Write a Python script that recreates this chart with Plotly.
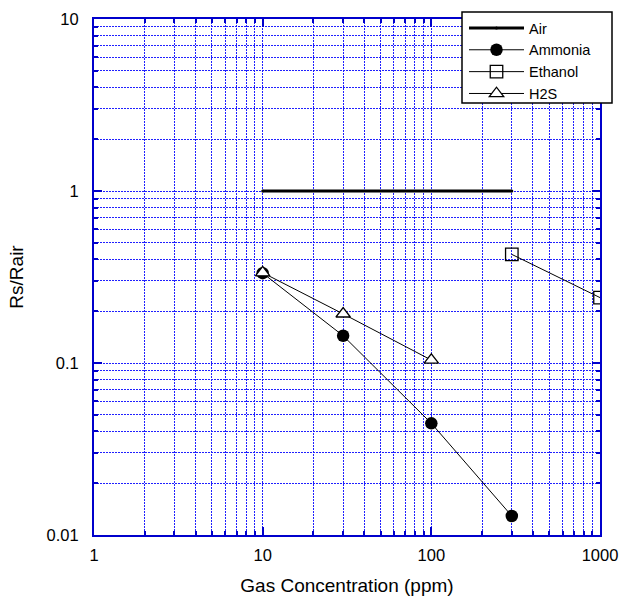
import plotly.graph_objects as go

air_x = [10, 300]
air_y = [1, 1]
ammonia_x = [10, 30, 100, 300]
ammonia_y = [0.333, 0.144, 0.0446, 0.0129]
ethanol_x = [300, 1000]
ethanol_y = [0.428, 0.240]
h2s_x = [10, 30, 100]
h2s_y = [0.335, 0.193, 0.104]

x_ticks = [1, 10, 100, 1000]
x_tick_text = ["1", "10", "100", "1000"]
y_ticks = [0.01, 0.1, 1, 10]
y_tick_text = ["0.01", "0.1", "1", "10"]

x_minor = [m * 10 ** e for e in range(0, 3) for m in range(2, 10)]
y_minor = [m * 10.0 ** e for e in range(-2, 1) for m in range(2, 10)]

FONT = "Liberation Sans, Arial"
BLUE = "#0000cc"
GRID = "#2020ff"
GRID_DASH = "1.5px,1.5px"

fig = go.Figure()
fig.add_trace(go.Scatter(x=air_x, y=air_y, name="Air", mode="lines+markers",
                         line=dict(color="black", width=3),
                         marker=dict(symbol="circle", size=3, color="black")))
fig.add_trace(go.Scatter(x=ammonia_x, y=ammonia_y, name="Ammonia", mode="lines+markers",
                         line=dict(color="black", width=1),
                         marker=dict(symbol="circle", size=12.5, color="black")))
fig.add_trace(go.Scatter(x=ethanol_x, y=ethanol_y, name="Ethanol", mode="lines+markers",
                         line=dict(color="black", width=1),
                         marker=dict(symbol="square-open", size=12.5, color="black",
                                     line=dict(width=1.3))))
fig.add_trace(go.Scatter(x=h2s_x, y=h2s_y, name="H2S", mode="lines+markers",
                         line=dict(color="black", width=1),
                         marker=dict(symbol="triangle-up", size=12.5, color="white",
                                     line=dict(color="black", width=1.3))))

def axis_common(minor_vals):
    return dict(
        type="log",
        showline=True, linecolor=BLUE, linewidth=2, mirror="allticks",
        ticks="inside", ticklen=8, tickwidth=2, tickcolor=BLUE,
        showgrid=True, gridcolor=GRID, griddash=GRID_DASH, gridwidth=1,
        zeroline=False, automargin=False,
        tickfont=dict(family=FONT, size=16.5, color="black"),
        minor=dict(tickmode="array", tickvals=minor_vals,
                   ticks="inside", ticklen=4, tickwidth=1.5, tickcolor=BLUE,
                   showgrid=True, gridcolor=GRID, griddash=GRID_DASH, gridwidth=1),
    )

fig.update_xaxes(**axis_common(x_minor), range=[0, 3], tickmode="array",
                 tickvals=x_ticks, ticktext=x_tick_text, ticklabelstandoff=4,
                 title=dict(text="Gas Concentration (ppm)",
                            font=dict(family=FONT, size=19, color="black"), standoff=16))
fig.update_yaxes(**axis_common(y_minor), range=[-2, 1], tickmode="array",
                 tickvals=y_ticks, ticktext=y_tick_text, ticklabelstandoff=10,
                 title=dict(text="Rs/Rair",
                            font=dict(family=FONT, size=19, color="black"), standoff=18))

# legend frame (drawn as a paper-referenced box behind a transparent legend)
fig.add_shape(type="rect", xref="paper", yref="paper",
              x0=(462 - 94) / 506, x1=(612 - 94) / 506,
              y0=(535 - 103) / 516, y1=(535 - 12) / 516,
              fillcolor="white", line=dict(color="black", width=1.5), layer="above")

fig.update_layout(
    width=621, height=597,
    margin=dict(l=94, r=21, t=19, b=62),
    plot_bgcolor="white", paper_bgcolor="white",
    legend=dict(x=(464 - 94) / 506, y=(535 - 12) / 516, xanchor="left", yanchor="top",
                bgcolor="rgba(0,0,0,0)", borderwidth=0,
                font=dict(family=FONT, size=14.5, color="black"),
                itemwidth=55, tracegroupgap=0),
    showlegend=True,
)

fig.write_html("out.html", config={"displayModeBar": False},
               post_script="document.body.style.margin='0';"
                           "document.documentElement.style.overflow='hidden';")
